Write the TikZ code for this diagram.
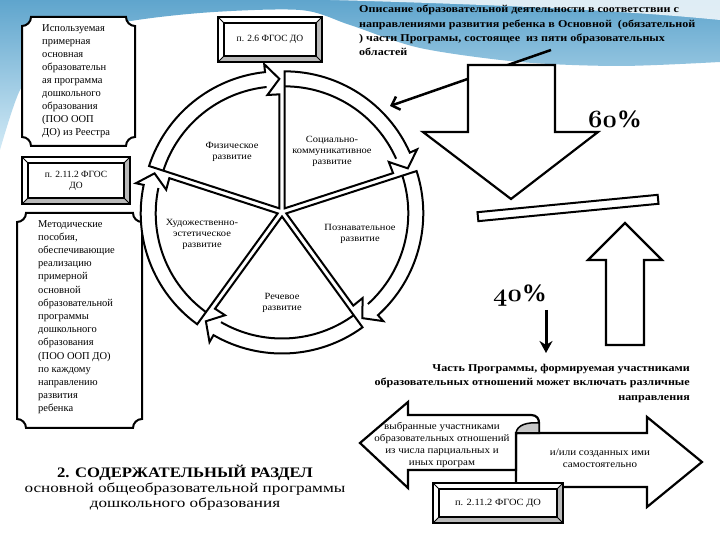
\documentclass[tikz,border=0pt]{standalone}
\usepackage{fontspec}
\setmainfont{Liberation Serif}
\newfontfamily\wideA[FakeStretch=1.1]{Liberation Serif}
\newfontfamily\wideB[FakeStretch=1.15]{Liberation Serif}
\newfontfamily\wideC[FakeStretch=1.27]{Liberation Serif}
\usetikzlibrary{arrows.meta}

\definecolor{bgtop}{RGB}{95,165,205}
\definecolor{bgbot}{RGB}{210,234,246}

% рамка со скруглёнными внутрь углами
\newcommand{\plaqueframe}[4]{%
  \draw[frame] ({#1+9},#4) -- ({#3-9},#4) arc[start angle=180,end angle=270,radius=9]
    -- (#3,{#2+9}) arc[start angle=90,end angle=180,radius=9]
    -- ({#1+9},#2) arc[start angle=0,end angle=90,radius=9]
    -- (#1,{#4-9}) arc[start angle=270,end angle=360,radius=9] -- cycle;}
% рамка с фаской
\newcommand{\bevelframe}[4]{%
  \fill[white] (#1,#2) rectangle (#3,#4);
  \fill[gray!55] (#3,#4) -- (#3,#2) -- (#1,#2) -- ({#1+6},{#2+6}) -- ({#3-6},{#2+6}) -- ({#3-6},{#4-6}) -- cycle;
  \draw[line width=1.3pt] ({#1+6},{#2+6}) rectangle ({#3-6},{#4-6});
  \draw[line width=1pt] (#1,#2) -- ({#1+6},{#2+6}) (#3,#2) -- ({#3-6},{#2+6})
    (#1,#4) -- ({#1+6},{#4-6}) (#3,#4) -- ({#3-6},{#4-6});
  \draw[line width=2pt] (#1,#2) rectangle (#3,#4);}

\begin{document}
\begin{tikzpicture}
  [x=1pt,y=1pt,
   frame/.style={line width=2pt,fill=white},
   slice/.style={line width=2pt,fill=white},
   fat/.style={line width=2.2pt,fill=white,line join=miter},
   small/.style={font=\wideA\fontsize{9.5}{11}\selectfont,align=center},
   plain/.style={font=\fontsize{10.5}{13.1}\selectfont,align=left,inner sep=0pt},
   heavy/.style={font=\wideB\bfseries\fontsize{10.5}{14.3}\selectfont,inner sep=0pt},
   pct/.style={font=\bfseries\fontsize{25}{25}\selectfont}]
  \useasboundingbox (0,0) rectangle (720,540);
  \fill[white] (0,0) rectangle (720,540);
  % фон
  \shade[top color=bgtop,bottom color=bgbot] plot[smooth] coordinates
    {(0,390) (20,450) (50,490) (110,515) (200,527) (300,530) (350,515)
     (420,492) (520,478) (620,474) (720,478)} -- (720,540) -- (0,540) -- cycle;
  \fill[white,opacity=.8] (330,540) .. controls (480,536) and (620,530) .. (720,520) -- (720,540) -- cycle;

  % левая колонка
  \plaqueframe{22}{394}{135}{523}
  \node[plain,anchor=north west] (primer) at (42,516) {Используемая\\примерная\\основная\\образовательн\\ая программа\\дошкольного\\образования\\(ПОО ООП\\ДО) из Реестра};
  \bevelframe{22}{336}{130}{383}
  \node[small,font=\fontsize{9.5}{11}\selectfont] (fgosA) at (76,359.5) {п. 2.11.2 ФГОС\\ДО};
  \plaqueframe{17}{112}{142}{327}
  \node[plain,anchor=north west,font=\fontsize{10.5}{13.2}\selectfont] (posob) at (38,320) {Методические\\пособия,\\обеспечивающие\\реализацию\\примерной\\основной\\образовательной\\программы\\дошкольного\\образования\\(ПОО ООП ДО)\\по каждому\\направлению\\развития\\ребенка};

  % круг из пяти областей
  \bevelframe{218}{478}{322}{523}
  \node[small,font=\fontsize{9.5}{11}\selectfont] (fgos26) at (270,500.5) {п. 2.6 ФГОС ДО};
  \begin{scope}[shift={(282,328)}]
    \foreach \s/\n/\lx/\ly/\txt in {162/fiz/-50/60/{Физическое\\развитие},
        90/soc/50/61/{Социально-\\коммуникативное\\развитие},
        18/pozn/78/-22/{Познавательное\\развитие},
        -54/rech/0/-91/{Речевое\\развитие},
        -126/hud/-80/-22/{Художественно-\\эстетическое\\развитие}}{
      \pgfmathsetmacro\e{\s-72}
      \pgfmathsetmacro\b{\s-36}
      \pgfmathsetmacro\h{\e+6}
      \begin{scope}[shift={(\b:4.5)}]
        \draw[slice] (0,0) -- (\e:114) -- (\h:114) -- (\e:129.5) -- (\h:145) -- (\h:137)
          arc[start angle=\h,end angle=\s,radius=137] -- cycle;
        \draw[slice] (\s:122) arc[start angle=\s,end angle=\h,radius=122];
      \end{scope}
      \node[small] (\n) at (\lx,\ly) {\txt};
    }
  \end{scope}

  % описание и стрелка к кругу
  \node[heavy,anchor=north west,align=left] (opis) at (359,535) {Описание образовательной деятельности в соответствии с\\направлениями развития ребенка в Основной~ (обязательной\\) части Програмы, состоящее~ из пяти образовательных\\областей};
  \coordinate (opisout) at (551,490);
  \coordinate (piein) at (390,434);
  \draw[line width=2.5pt,-{Straight Barb[length=7pt,width=14pt]}] (opisout) -- (piein);

  % весы 60 / 40
  \draw[fat] (468,475) -- (555,475) -- (555,408) -- (598,408) -- (511,341) -- (423,408) -- (468,408) -- cycle;
  \node[draw,line width=2pt,fill=white,rotate=5.5,minimum width=181,minimum height=9,inner sep=0pt] (beam) at (568,332) {};
  \draw[fat] (606,195) -- (644,195) -- (644,280) -- (662,280) -- (625,317) -- (588,280) -- (606,280) -- cycle;
  \node[pct] (p60) at (615,421) {{\usefont{OML}{cmm}{b}{it}60}\%};
  \node[pct] (p40) at (520,244) {{\usefont{OML}{cmm}{b}{it}40}\%};
  \coordinate (p40top) at (546,230);
  \coordinate (p40bot) at (546,187);
  \draw[line width=3pt,-{Stealth[length=12pt,width=13pt]}] (p40top) -- (p40bot);
  \node[heavy,anchor=north east,align=right] (chast) at (690,176) {Часть Программы, формируемая участниками\\образовательных отношений может включать различные\\направления};

  % выбранные / созданные программы
  \draw[fat] (516,107) -- (647,107) -- (647,123) -- (702,78) -- (647,33) -- (647,53) -- (516,53) -- cycle;
  \draw[fat] (360,97) -- (408,138) -- (408,125) -- (531,125) .. controls (537,125) and (539,121) .. (539,117)
    -- (539,107) -- (516,107) -- (516,70) -- (408,70) -- (408,52) -- cycle;
  \draw[line width=1.5pt,fill=gray!45] (516,107) .. controls (517,115) and (527,118) .. (539,117) -- (539,107) -- cycle;
  \node[small,font=\wideA\fontsize{10}{12.3}\selectfont] (vybr) at (442,95) {выбранные участниками\\образовательных отношений\\из числа парциальных и\\иных програм};
  \node[small,font=\wideA\fontsize{10}{12}\selectfont] (sozd) at (600,82) {и/или созданных ими\\самостоятельно};
  \bevelframe{433}{17}{563}{57}
  \node[small,font=\wideA\fontsize{9.5}{11}\selectfont] (fgosB) at (498,37) {п. 2.11.2 ФГОС ДО};

  % заголовок раздела
  \node[align=center,font=\wideC\fontsize{13.5}{15}\selectfont] (razdel) at (185,52) {{\wideB\bfseries\fontsize{14.5}{15}\selectfont 2. СОДЕРЖАТЕЛЬНЫЙ РАЗДЕЛ}\\основной общеобразовательной программы\\дошкольного образования};
\end{tikzpicture}
\end{document}
